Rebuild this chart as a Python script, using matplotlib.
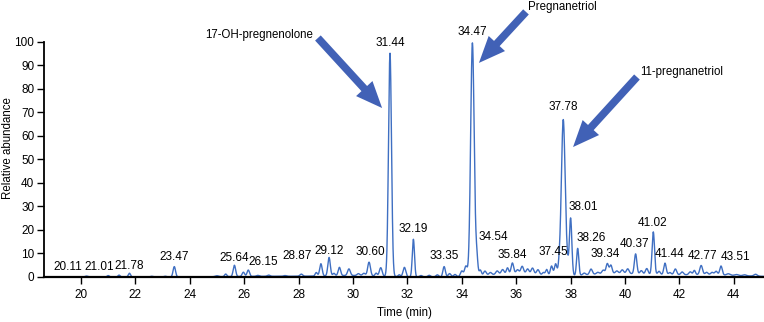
"""Chromatogram with labelled peaks."""
import matplotlib.pyplot as plt
import numpy as np
from matplotlib.patches import FancyArrowPatch

plt.rcParams["font.family"] = ["Liberation Sans", "DejaVu Sans"]

# peak retention time (min), relative height, width (min)
peak_rt = [
    20.2, 21.0, 21.4, 21.78, 22.6, 23.1, 23.43, 25.0, 25.32, 25.64, 25.97, 26.15,
    26.5, 26.9, 27.5, 28.1, 28.65, 28.82, 29.12, 29.3, 29.5, 29.85, 30.2, 30.4,
    30.59, 30.85, 31.02, 31.36, 31.7, 31.89, 32.22, 32.5, 32.8, 33.1, 33.35, 33.55,
    33.75, 34.0, 34.15, 34.39, 34.55, 34.68, 34.85, 35.05, 35.3, 35.5, 35.68, 35.86,
    36.05, 36.22, 36.42, 36.6, 36.8, 37.0, 37.12, 37.3, 37.45, 37.58, 37.73, 37.88,
    38.0, 38.26, 38.5, 38.75, 39.0, 39.2, 39.35, 39.48, 39.7, 39.9, 40.1, 40.39,
    40.6, 40.8, 41.04, 41.25, 41.47, 41.65, 41.85, 42.1, 42.4, 42.55, 42.8, 43.0,
    43.2, 43.35, 43.53, 43.8, 44.1, 44.4, 44.8,
    # broad baseline humps
    27.0, 30.0, 36.0, 39.6, 42.8,
]
peak_h = [
    0.4, 0.6, 0.8, 1.6, 0.3, 0.3, 4.4, 0.4, 1.1, 4.8, 1.8, 2.7,
    0.4, 0.5, 0.3, 0.9, 1.5, 5.2, 7.8, 1.0, 3.5, 2.8, 0.8, 1.0,
    5.8, 1.2, 3.6, 95.0, 0.8, 4.0, 16.0, 0.6, 0.7, 0.9, 4.4, 1.4,
    1.0, 2.4, 4.4, 99.3, 7.5, 2.4, 1.8, 1.0, 1.4, 1.8, 2.4, 4.4,
    1.5, 3.0, 2.0, 2.5, 2.0, 1.0, 2.4, 4.0, 5.0, 3.5, 66.5, 4.0,
    24.5, 11.5, 0.8, 2.3, 0.7, 1.5, 4.2, 3.5, 1.0, 1.5, 2.0, 8.5,
    1.5, 2.5, 18.2, 1.5, 5.0, 1.0, 2.5, 1.2, 1.2, 1.8, 3.9, 1.0,
    1.0, 1.5, 3.8, 0.6, 0.4, 0.4, 0.8,
    0.3, 0.6, 1.6, 1.5, 1.0,
]
peak_w = [
    0.05, 0.04, 0.04, 0.04, 0.05, 0.05, 0.045, 0.06, 0.04, 0.045, 0.045, 0.045,
    0.05, 0.05, 0.05, 0.05, 0.04, 0.045, 0.045, 0.04, 0.045, 0.05, 0.05, 0.05,
    0.05, 0.04, 0.05, 0.055, 0.04, 0.05, 0.04, 0.05, 0.05, 0.05, 0.045, 0.05,
    0.05, 0.05, 0.05, 0.065, 0.04, 0.04, 0.05, 0.05, 0.05, 0.05, 0.04, 0.045,
    0.05, 0.05, 0.05, 0.05, 0.05, 0.04, 0.04, 0.045, 0.045, 0.04, 0.07, 0.04,
    0.045, 0.04, 0.05, 0.05, 0.05, 0.05, 0.045, 0.045, 0.05, 0.05, 0.05, 0.045,
    0.05, 0.05, 0.045, 0.05, 0.045, 0.05, 0.05, 0.05, 0.05, 0.04, 0.05, 0.05,
    0.05, 0.05, 0.045, 0.06, 0.06, 0.06, 0.06,
    1.5, 1.0, 0.9, 1.0, 1.4,
]

# peak labels: text, x, y (bottom), alignment
label_text = [
    "20.11", "21.01", "21.78", "23.47", "25.64", "26.15", "28.87", "29.12", "30.60",
    "31.44", "32.19", "33.35", "34.47", "34.54", "35.84", "37.45", "37.78", "38.01",
    "38.26", "39.34", "40.37", "41.02", "41.44", "42.77", "43.51",
]
label_x = [
    19.5, 20.66, 21.78, 23.43, 25.62, 26.15, 27.94, 29.13, 30.62,
    31.36, 32.2, 33.35, 34.4, 34.6, 35.85, 37.35, 37.73, 37.94,
    38.2, 39.27, 40.36, 41.02, 41.62, 42.84, 43.53,
]
label_y = [
    1.6, 1.6, 2.0, 5.8, 5.5, 3.8, 6.5, 8.6, 8.2,
    97.2, 17.9, 6.5, 101.5, 14.5, 6.8, 8.0, 69.8, 27.2,
    14.0, 7.2, 11.5, 20.4, 7.2, 6.5, 6.0,
]
label_ha = [
    "center", "center", "center", "center", "center", "left", "center", "center", "center",
    "center", "center", "center", "center", "left", "center", "center", "center", "left",
    "left", "center", "center", "center", "center", "center", "left",
]

# compound arrows: name, text pos, arrow tail, arrow tip
compounds = [
    ("17-OH-pregnenolone", (28.53, 103.0), "right", (28.71, 101.7), (31.07, 71.9)),
    ("Pregnanetriol", (36.45, 115.0), "left", (36.36, 112.8), (34.63, 91.1)),
    ("11-pregnanetriol", (40.57, 87.2), "left", (40.44, 85.1), (38.09, 55.3)),
]

line_color = "#3f6fc2"
arrow_color = "#4161b6"

t = np.linspace(18.6, 45.2, 6000)
signal = np.zeros_like(t)
for rt, h, w in zip(peak_rt, peak_h, peak_w):
    signal += h * np.exp(-0.5 * ((t - rt) / w) ** 2)

fig = plt.figure(figsize=(7.64, 3.22), dpi=100)
ax = fig.add_axes([0.0576, 0.1398, 0.9424, 0.7298])
ax.plot(t, signal, color=line_color, lw=1.0)

ax.set_xlim(18.64, 45.11)
ax.set_ylim(0, 100)
ax.set_xticks(np.arange(20, 45, 2))
ax.set_yticks(np.arange(0, 101, 10))
ax.spines[["top", "right"]].set_visible(False)
ax.spines["left"].set_linewidth(1.3)
ax.spines["bottom"].set_linewidth(1.6)
ax.tick_params(axis="both", labelsize=8.5, width=1.0, length=5, pad=2)
ax.tick_params(axis="x", pad=4)
ax.set_xlabel("Time (min)", fontsize=8.3, labelpad=4)
ax.set_ylabel("Relative abundance", fontsize=8.3)
ax.yaxis.set_label_coords(-0.041, 0.55)

for txt, x, y, ha in zip(label_text, label_x, label_y, label_ha):
    ax.text(x, y, txt, ha=ha, va="bottom", fontsize=8.5, clip_on=False)

for name, (tx, ty), ha, tail, tip in compounds:
    ax.text(tx, ty, name, ha=ha, va="center", fontsize=8.3, clip_on=False)
    arr = FancyArrowPatch(
        tail, tip,
        arrowstyle="simple,head_width=1.6,head_length=1.9,tail_width=0.55",
        mutation_scale=10, color=arrow_color, lw=0, clip_on=False,
        shrinkA=0, shrinkB=0,
    )
    ax.add_patch(arr)

fig.savefig("out.png", dpi=100)
